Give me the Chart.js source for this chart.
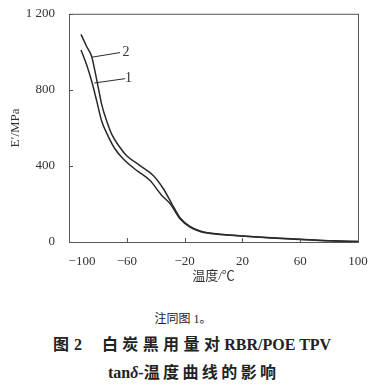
<!DOCTYPE html>
<html>
<head>
<meta charset="utf-8">
<script src="https://cdn.jsdelivr.net/npm/chart.js@4"></script>
<style>
  body { margin: 0; background: #fff; }
  #wrap { position: relative; width: 375px; height: 388px; }
  #myChart { position: absolute; left: 0; top: 0; }
  .cap { position: absolute; left: 0; width: 384px; text-align: center; color: #222; white-space: pre;
         font-family: "Liberation Serif", "Noto Sans CJK SC", serif; }
  .cjk { letter-spacing: 4.4px; }
  .cjk2 { letter-spacing: 3.4px; }
</style>
</head>
<body>
<div id="wrap">
  <canvas id="myChart" width="375" height="290"></canvas>
  <div class="cap" id="note" style="top:309px; width:366px; font-size:12px;">注同图 1。</div>
  <div class="cap" id="title1" style="top:331px; font-size:16px; font-weight:bold;">图<span style="display:inline-block;width:5px"></span>2<span style="display:inline-block;width:20px"></span><span class="cjk">白炭黑用量对</span>RBR/POE TPV</div>
  <div class="cap" id="title2" style="top:359px; font-size:16px; font-weight:bold;">tan<i>δ</i>-<span class="cjk2">温度曲线的影</span>响</div>
</div>
<script>
const canvas = document.getElementById("myChart");
const ctx = canvas.getContext("2d");

// curve 2 (upper one)
const temp2 = [-91.7, -87.8, -84.3, -82, -79.7, -77.4, -73.9, -70.4, -64.7, -60.1, -50.9, -41.7, -34.7, -28.9, -23.2, -16.3, -9.3, -2.4, 4.5, 19.5, 40, 60, 80, 100];
const mod2 = [1092, 1028, 975, 897, 810, 724, 636, 566, 497, 454, 402, 350, 280, 202, 128, 82, 58, 47, 41, 32, 22, 14, 7, 2];
// curve 1
const temp1 = [-91.7, -87.8, -84.3, -80.8, -77.4, -73.5, -68.5, -62.4, -53.1, -43.9, -35.8, -30.1, -23.2, -16.3, -9.3, -2.4, 4.5, 19.5, 40, 60, 80, 100];
const mod1 = [1010, 932, 845, 741, 636, 566, 493, 437, 376, 323, 245, 202, 122, 78, 55, 45, 40, 31, 21, 13, 6, 2];

const xTicks = [-100, -60, -20, 20, 60, 100];
const yTicks = [0, 400, 800, 1200];

// leader lines for the curve numbers
const labelNames = ["2", "1"];
const leaderFrom = [[-84.1, 972], [-82.5, 836]];
const leaderTo = [[-64.7, 996], [-61.2, 859]];
const labelAt = [[-60.6, 996], [-58.8, 859]];

const lineColor = "#2a2a2a";
const axisColor = "#555";
const textColor = "#333";

const toPts = (xs, ys) => xs.map((x, i) => ({ x: x, y: ys[i] }));

const framePlugin = {
  id: "frame",
  afterDraw(chart) {
    const a = chart.chartArea;
    const c = chart.ctx;
    c.save();
    c.strokeStyle = axisColor;
    c.lineWidth = 1;
    c.strokeRect(a.left + 0.5, a.top + 0.5, a.right - a.left, a.bottom - a.top);
    // inward tick marks
    const xs = chart.scales.x, ys = chart.scales.y;
    c.beginPath();
    xs.ticks.forEach((t, i) => {
      const px = Math.round(xs.getPixelForTick(i)) + 0.5;
      c.moveTo(px, a.bottom);
      c.lineTo(px, a.bottom - 4);
    });
    ys.ticks.forEach((t, i) => {
      const py = Math.round(ys.getPixelForTick(i)) + 0.5;
      c.moveTo(a.left, py);
      c.lineTo(a.left + 4, py);
    });
    c.stroke();
    c.restore();
  }
};

const labelPlugin = {
  id: "curveLabels",
  afterDatasetsDraw(chart) {
    const c = chart.ctx;
    const xs = chart.scales.x, ys = chart.scales.y;
    c.save();
    c.strokeStyle = lineColor;
    c.lineWidth = 1;
    c.fillStyle = textColor;
    c.font = "14px 'Liberation Serif'";
    c.textAlign = "center";
    c.textBaseline = "middle";
    labelNames.forEach((name, i) => {
      c.beginPath();
      c.moveTo(xs.getPixelForValue(leaderFrom[i][0]), ys.getPixelForValue(leaderFrom[i][1]));
      c.lineTo(xs.getPixelForValue(leaderTo[i][0]), ys.getPixelForValue(leaderTo[i][1]));
      c.stroke();
      c.fillText(name, xs.getPixelForValue(labelAt[i][0]), ys.getPixelForValue(labelAt[i][1]));
    });
    c.restore();
  }
};

const tickFont = { family: "'Liberation Serif', serif", size: 13 };

let myChart = new Chart(ctx, {
  type: "line",
  data: {
    datasets: [
      {
        label: "1",
        data: toPts(temp1, mod1),
        borderColor: lineColor,
        borderWidth: 1.5,
        pointRadius: 0,
        cubicInterpolationMode: "monotone",
        fill: false,
      },
      {
        label: "2",
        data: toPts(temp2, mod2),
        borderColor: lineColor,
        borderWidth: 1.5,
        pointRadius: 0,
        cubicInterpolationMode: "monotone",
        fill: false,
      },
    ],
  },
  options: {
    responsive: false,
    animation: false,
    layout: { padding: { top: 12, right: 17, left: 0, bottom: 0 } },
    plugins: { legend: { display: false }, tooltip: { enabled: false } },
    scales: {
      x: {
        type: "linear",
        min: -100,
        max: 100,
        grid: { display: false },
        border: { display: false },
        afterBuildTicks: s => { s.ticks = xTicks.map(v => ({ value: v })); },
        afterFit: s => { s.height = 48; },
        ticks: {
          color: textColor,
          font: tickFont,
          padding: 4,
          maxRotation: 0,
          autoSkip: false,
          callback: v => v < 0 ? (v === -100 ? "\u2007\u2007\u2007\u2007" : "") + "\u2212" + Math.abs(v) : String(v),
        },
        title: {
          display: true,
          text: "温度/℃",
          color: textColor,
          font: { family: "'Liberation Serif', 'Noto Sans CJK SC', serif", size: 13 },
          padding: { top: 0, bottom: 6 },
        },
      },
      y: {
        min: 0,
        max: 1200,
        grid: { display: false },
        border: { display: false },
        afterBuildTicks: s => { s.ticks = yTicks.map(v => ({ value: v })); },
        afterFit: s => { s.width = 69; },
        ticks: {
          color: textColor,
          font: tickFont,
          padding: 6,
          autoSkip: false,
          callback: v => v === 1200 ? "1 200" : String(v),
        },
        title: {
          display: true,
          text: "E′/MPa",
          color: textColor,
          font: { family: "'Liberation Serif', serif", size: 13 },
          padding: { top: 8, bottom: 0 },
        },
      },
    },
  },
  plugins: [framePlugin, labelPlugin],
});
</script>
</body>
</html>
